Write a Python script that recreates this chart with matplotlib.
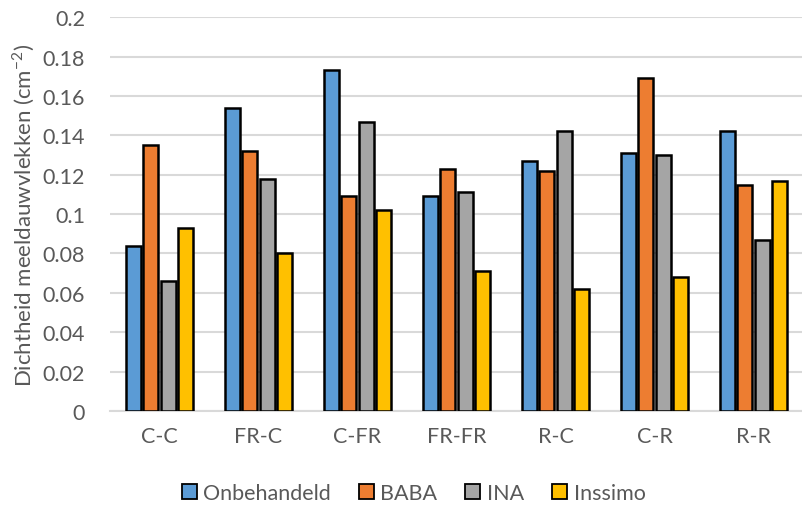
import numpy as np
import matplotlib.pyplot as plt
from matplotlib.patches import Patch

plt.rcParams['font.family'] = ['Lato', 'DejaVu Sans']

# Data
categorieen = ['C-C', 'FR-C', 'C-FR', 'FR-FR', 'R-C', 'C-R', 'R-R']
onbehandeld = [0.084, 0.154, 0.173, 0.109, 0.127, 0.131, 0.142]
baba = [0.135, 0.132, 0.109, 0.123, 0.122, 0.169, 0.115]
ina = [0.066, 0.118, 0.147, 0.111, 0.142, 0.130, 0.087]
inssimo = [0.093, 0.080, 0.102, 0.071, 0.062, 0.068, 0.117]

series = [('Onbehandeld', onbehandeld, '#5b9bd5'),
          ('BABA', baba, '#ed7d31'),
          ('INA', ina, '#a5a5a5'),
          ('Inssimo', inssimo, '#ffc000')]

tekst = '#595959'

fig = plt.figure(figsize=(8.03, 5.06), dpi=100)
ax = fig.add_axes([0.137, 0.186, 0.863, 0.778])

x = np.arange(len(categorieen))
slot = 0.177
breedte = 0.15
for i, (naam, waarden, kleur) in enumerate(series):
    ax.bar(x + (i - 1.5) * slot, waarden, breedte, color=kleur,
           edgecolor='black', linewidth=1.8, label=naam, zorder=3)

ax.set_xlim(-0.5, len(categorieen) - 0.5)
ax.set_ylim(0, 0.2)
ax.set_yticks(np.arange(0, 0.201, 0.02))
ax.set_yticklabels(['0', '0.02', '0.04', '0.06', '0.08', '0.1', '0.12',
                    '0.14', '0.16', '0.18', '0.2'])
ax.set_xticks(x)
ax.set_xticklabels(categorieen)
ax.tick_params(axis='both', length=0, colors=tekst, labelsize=15.5)
ax.tick_params(axis='x', pad=11)
ax.tick_params(axis='y', pad=18)
ax.grid(axis='y', color='#d9d9d9', linewidth=1.5, zorder=0)
for kant in ['top', 'right', 'left']:
    ax.spines[kant].set_visible(False)
ax.spines['bottom'].set_color('#d9d9d9')
ax.spines['bottom'].set_linewidth(1.5)

ax.set_ylabel('Dichtheid meeldauwvlekken (cm$^{\\mathregular{-2}}$)',
              color=tekst, fontsize=16, labelpad=4)

handles = [Patch(facecolor=k, edgecolor='black', linewidth=1.3, label=n)
           for n, _, k in series]
fig.legend(handles=handles, loc='lower center', ncol=4, frameon=False,
           bbox_to_anchor=(0.515, -0.035), fontsize=15.5, labelcolor=tekst,
           handlelength=0.7, handleheight=0.7, handletextpad=0.3,
           columnspacing=1.3)

plt.savefig('out.png', dpi=100)
